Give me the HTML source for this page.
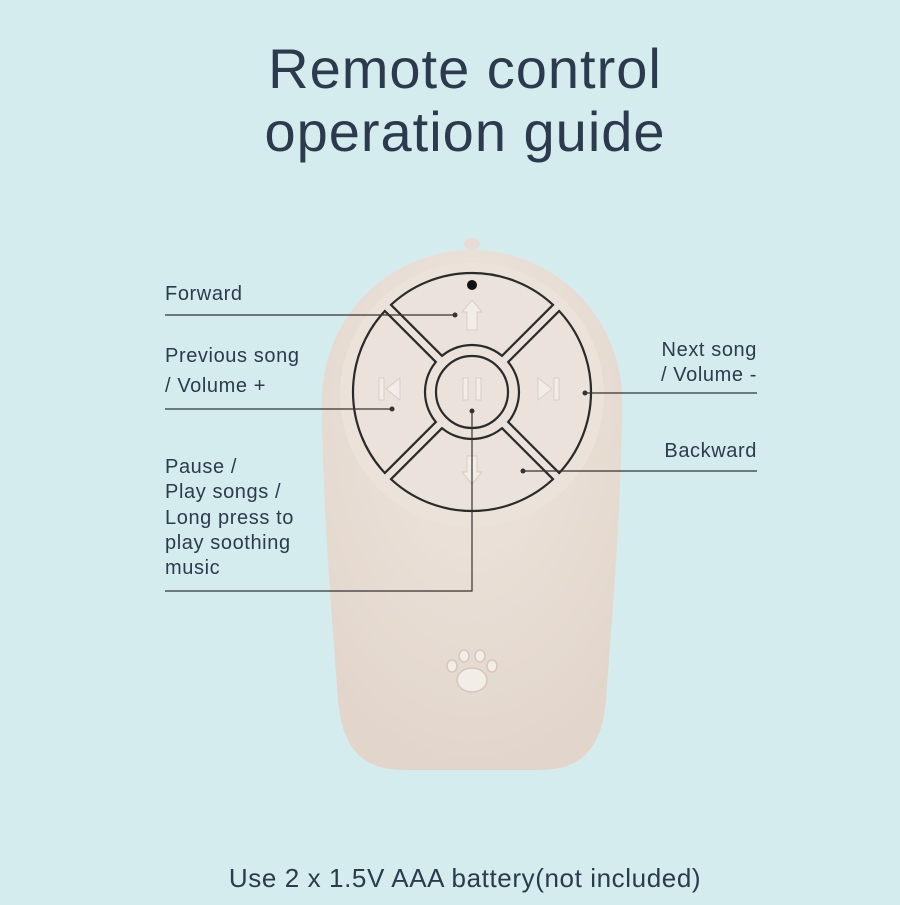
<!DOCTYPE html>
<html><head><meta charset="utf-8"><style>
body{margin:0;width:900px;height:900px;background:#d5ecee;font-family:"Liberation Sans",sans-serif;overflow:hidden}
</style></head><body>
<svg width="900" height="900" viewBox="0 0 900 900" xmlns="http://www.w3.org/2000/svg">
<defs>
<radialGradient id="g" cx="50%" cy="30%" r="70%"><stop offset="0" stop-color="#efe6de"/><stop offset="1" stop-color="#e2d6cc"/></radialGradient>
</defs>
<rect width="900" height="900" fill="#d5ecee"/>
<text x="465" y="88" text-anchor="middle" font-size="56" letter-spacing="1" fill="#2b3b4d">Remote control</text>
<text x="465" y="151" text-anchor="middle" font-size="56" letter-spacing="1" fill="#2b3b4d">operation guide</text>
<ellipse cx="472" cy="244" rx="8" ry="6" fill="#e8ddd4"/>
<path d="M322 400 A150 150 0 0 1 622 400 C622 500 612 620 606 700 C602 750 580 770 540 770 L404 770 C364 770 342 750 338 700 C332 620 322 500 322 400 Z" fill="url(#g)"/>
<circle cx="472" cy="395" r="132" fill="#ebe2da"/>
<g stroke="#2a2a2a" stroke-width="2.2" fill="#ebe3db">
<circle cx="472" cy="392" r="119"/>
<circle cx="472" cy="392" r="47"/>
<circle cx="472" cy="392" r="36"/>
</g>
<g stroke="#2a2a2a" stroke-width="11" stroke-linecap="butt">
<line x1="388" y1="308" x2="439" y2="359"/><line x1="556" y1="308" x2="505" y2="359"/>
<line x1="388" y1="476" x2="439" y2="425"/><line x1="556" y1="476" x2="505" y2="425"/>
</g>
<g stroke="#ebe3db" stroke-width="6.5">
<line x1="384" y1="304" x2="441" y2="361"/><line x1="560" y1="304" x2="503" y2="361"/>
<line x1="384" y1="480" x2="441" y2="423"/><line x1="560" y1="480" x2="503" y2="423"/>
</g>
<circle cx="472" cy="285" r="5" fill="#111"/>
<g fill="#f3ede7" stroke="#d8cdc3" stroke-width="1">
<path d="M472 300 L482 312 L477 312 L477 330 L467 330 L467 312 L462 312 Z"/>
<path d="M472 484 L482 472 L477 472 L477 456 L467 456 L467 472 L462 472 Z"/>
<rect x="463" y="378" width="5" height="22"/><rect x="476" y="378" width="5" height="22"/>
<rect x="379" y="378" width="5" height="22"/><path d="M386 389 L400 378 L400 400 Z"/>
<path d="M538 378 L552 389 L538 400 Z"/><rect x="554" y="378" width="5" height="22"/>
</g>
<g fill="#f3ede7" stroke="#d4c8bd" stroke-width="1.5">
<ellipse cx="472" cy="680" rx="15" ry="12"/>
<ellipse cx="452" cy="666" rx="5" ry="6"/><ellipse cx="464" cy="656" rx="5" ry="6"/>
<ellipse cx="480" cy="656" rx="5" ry="6"/><ellipse cx="492" cy="666" rx="5" ry="6"/>
</g>
<g stroke="#333" stroke-width="1.2" fill="none">
<line x1="165" y1="315" x2="455" y2="315"/>
<line x1="165" y1="409" x2="392" y2="409"/>
<polyline points="472,411 472,591 165,591"/>
<line x1="585" y1="393" x2="757" y2="393"/>
<line x1="523" y1="471" x2="757" y2="471"/>
</g>
<g fill="#333"><circle cx="455" cy="315" r="2.5"/><circle cx="392" cy="409" r="2.5"/><circle cx="472" cy="411" r="2.5"/><circle cx="585" cy="393" r="2.5"/><circle cx="523" cy="471" r="2.5"/></g>
<g font-size="20" letter-spacing="0.6" fill="#2b3b4d">
<text x="165" y="300">Forward</text>
<text x="165" y="362">Previous song</text>
<text x="165" y="392">/ Volume +</text>
<text x="757" y="356" text-anchor="end">Next song</text>
<text x="757" y="381" text-anchor="end">/ Volume -</text>
<text x="757" y="457" text-anchor="end">Backward</text>
<text x="165" y="473">Pause /</text>
<text x="165" y="498">Play songs /</text>
<text x="165" y="524">Long press to</text>
<text x="165" y="549">play soothing</text>
<text x="165" y="574">music</text>
</g>
<text x="465" y="887" text-anchor="middle" font-size="26" letter-spacing="0.6" fill="#2b3b4d">Use 2 x 1.5V AAA battery(not included)</text>
</svg>
</body></html>
